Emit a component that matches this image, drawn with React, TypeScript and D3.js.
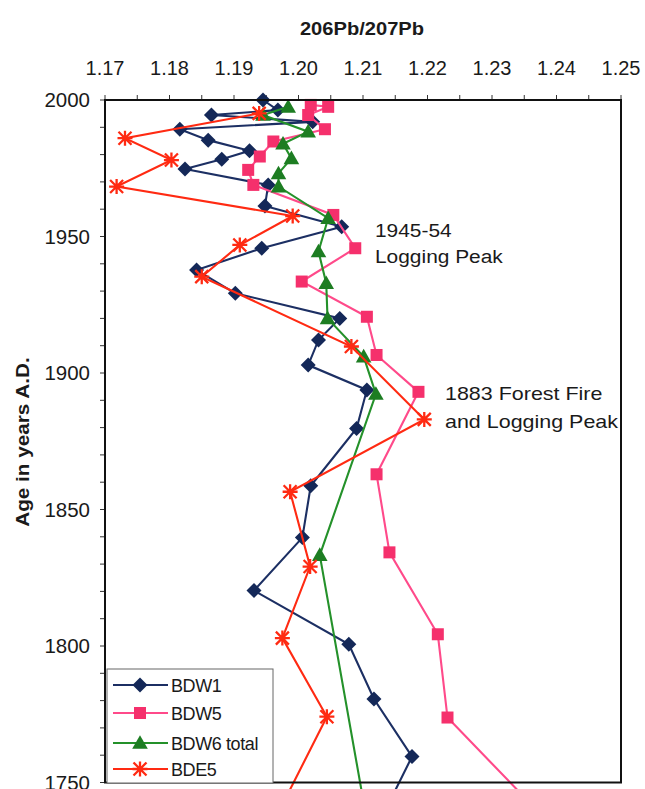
import React from "react";
import * as d3 from "d3";

// 206Pb/207Pb ratio profiles by sediment age
const bdw1Years = [2000, 1996.3, 1994.5, 1992, 1989.3, 1985.3, 1981.4, 1978.3, 1974.7, 1968.9, 1961.2, 1953.6, 1945.7, 1937.7, 1929.2, 1920, 1912.1, 1902.9, 1893.8, 1879.7, 1858.7, 1839.7, 1820.3, 1800.6, 1780.6, 1759.5, 1740];
const bdw1Ratio = [1.1945, 1.1968, 1.1865, 1.2022, 1.1816, 1.186, 1.1924, 1.1881, 1.1824, 1.1953, 1.1948, 1.2067, 1.1943, 1.1842, 1.1902, 1.2064, 1.2031, 1.2015, 1.2106, 1.209, 1.2019, 1.2006, 1.1931, 1.2078, 1.2117, 1.2176, 1.2135];

const bdw5Years = [1998.2, 1997.5, 1994.5, 1989.3, 1984.8, 1979.3, 1974.4, 1968.9, 1957.9, 1945.7, 1933.5, 1920.6, 1906.6, 1893.1, 1862.9, 1834.3, 1804.3, 1773.8, 1740];
const bdw5Ratio = [1.2019, 1.2046, 1.2015, 1.2041, 1.1961, 1.194, 1.1922, 1.193, 1.2054, 1.2088, 1.2005, 1.2106, 1.2121, 1.2186, 1.2121, 1.2141, 1.2216, 1.2231, 1.2369];

const bdw6Years = [1997.5, 1994.5, 1988.4, 1984, 1978.6, 1973.1, 1968.3, 1956.7, 1944.5, 1932.9, 1920, 1906, 1892.3, 1833.3, 1700];
const bdw6Ratio = [1.1984, 1.1945, 1.2015, 1.1976, 1.1989, 1.1969, 1.1969, 1.2046, 1.2031, 1.2043, 1.2045, 1.2101, 1.212, 1.2033, 1.2133];

const bde5Years = [1995.1, 1986, 1978, 1968.3, 1957.5, 1946.9, 1935.3, 1909.7, 1883, 1856.5, 1829.1, 1802.9, 1774.1, 1740];
const bde5Ratio = [1.1939, 1.1731, 1.1803, 1.1718, 1.1991, 1.1909, 1.185, 1.2082, 1.2195, 1.1987, 1.2018, 1.1975, 1.2044, 1.1971];

const xTickLabels = ["1.17", "1.18", "1.19", "1.20", "1.21", "1.22", "1.23", "1.24", "1.25"];
const yTickLabels = [2000, 1950, 1900, 1850, 1800, 1750];

const seriesNames = ["BDW1", "BDW5", "BDW6 total", "BDE5"];

const FONT = 'Arial, "Liberation Sans", Helvetica, sans-serif';

type Pt = { year: number; ratio: number };
const zipSeries = (ys: number[], rs: number[]): Pt[] => ys.map((y, i) => ({ year: y, ratio: rs[i] }));

const series = [
  { name: seriesNames[0], data: zipSeries(bdw1Years, bdw1Ratio), line: "#1c2f63", fill: "#142858", marker: "diamond" },
  { name: seriesNames[1], data: zipSeries(bdw5Years, bdw5Ratio), line: "#ff4a8a", fill: "#f5306c", marker: "square" },
  { name: seriesNames[2], data: zipSeries(bdw6Years, bdw6Ratio), line: "#24912a", fill: "#1d7d22", marker: "triangle" },
  { name: seriesNames[3], data: zipSeries(bde5Years, bde5Ratio), line: "#ff2a12", fill: "#ff2a12", marker: "star" },
];

function Marker({ kind, x, y, fill }: { kind: string; x: number; y: number; fill: string }) {
  if (kind === "diamond") {
    const r = 7.5;
    return <path d={`M${x},${y - r}L${x + r},${y}L${x},${y + r}L${x - r},${y}Z`} fill={fill} />;
  }
  if (kind === "square") {
    const h = 6;
    return <rect x={x - h} y={y - h} width={2 * h} height={2 * h} fill={fill} />;
  }
  if (kind === "triangle") {
    const r = 7.8;
    return <path d={`M${x},${y - r}L${x + r},${y + r * 0.75}L${x - r},${y + r * 0.75}Z`} fill={fill} />;
  }
  const r = 6.5;
  return (
    <path
      d={`M${x - r},${y - r}L${x + r},${y + r}M${x - r},${y + r}L${x + r},${y - r}M${x},${y - r - 1}L${x},${y + r + 1}M${x - r - 1},${y}L${x + r + 1},${y}`}
      stroke={fill}
      strokeWidth={2.3}
      fill="none"
    />
  );
}

export default function App() {
  const W = 645;
  const H = 789;
  const left = 105;
  const right = 621;
  const top = 100;
  const bottom = 782.5;

  const x = d3.scaleLinear().domain([1.17, 1.25]).range([left, right]);
  const y = d3.scaleLinear().domain([2000, 1750]).range([top, bottom]);

  const line = d3
    .line<Pt>()
    .x((d) => x(d.ratio))
    .y((d) => y(d.year));

  const xMinor = d3.range(0, 17).map((i) => 1.17 + i * 0.005);
  const yMinor = d3.range(0, 26).map((i) => 2000 - i * 10);

  const legend = { x0: 107, y0: 669, x1: 273, y1: 783 };
  const legendRows = [685, 713, 743, 769];

  return (
    <svg width={W} height={H} style={{ position: "absolute", left: 0, top: 0, background: "#fff" }} fontFamily={FONT}>
      <rect x={0} y={0} width={W} height={H} fill="#fff" />

      {/* title */}
      <text x={362} y={35} textAnchor="middle" fontWeight="bold" fontSize={19} fill="#1a1a1a" transform="translate(362,0) scale(1.06,1) translate(-362,0)">
        206Pb/207Pb
      </text>

      {/* top axis ticks and labels */}
      {xMinor.map((v, i) => (
        <line key={"xt" + i} x1={x(v)} x2={x(v)} y1={top - 5} y2={top} stroke="#333" strokeWidth={1} />
      ))}
      {xTickLabels.map((t) => (
        <text key={t} x={x(+t)} y={75} textAnchor="middle" fontSize={20} fill="#1a1a1a">
          {t}
        </text>
      ))}

      {/* left axis ticks and labels */}
      {yMinor.map((v, i) => (
        <line key={"yt" + i} x1={left - 5} x2={left} y1={y(v)} y2={y(v)} stroke="#333" strokeWidth={1} />
      ))}
      {yTickLabels.map((t) => (
        <text key={t} x={90} y={y(t) + 7} textAnchor="end" fontSize={20.5} fill="#1a1a1a">
          {t}
        </text>
      ))}

      <text
        transform={`translate(29,442) rotate(-90) scale(1.12,1)`}
        textAnchor="middle"
        fontWeight="bold"
        fontSize={18.5}
        fill="#1a1a1a"
      >
        Age in years A.D.
      </text>

      {/* series */}
      {series.map((s) => (
        <g key={s.name}>
          <path d={line(s.data) || ""} fill="none" stroke={s.line} strokeWidth={2.1} />
          {s.data.map((d, i) => (
            <Marker key={i} kind={s.marker} x={x(d.ratio)} y={y(d.year)} fill={s.fill} />
          ))}
        </g>
      ))}

      {/* plot frame */}
      <rect x={left} y={top} width={right - left} height={bottom - top} fill="none" stroke="#111" strokeWidth={2} />

      {/* annotations */}
      <g fontSize={19} fill="#1a1a1a">
        <text transform="translate(375,237) scale(1.1,1)">1945-54</text>
        <text transform="translate(375,263) scale(1.1,1)">Logging Peak</text>
        <text transform="translate(445,400) scale(1.13,1)">1883 Forest Fire</text>
        <text transform="translate(445,428) scale(1.13,1)">and Logging Peak</text>
      </g>

      {/* legend */}
      <rect x={legend.x0} y={legend.y0} width={legend.x1 - legend.x0} height={legend.y1 - legend.y0} fill="#fff" stroke="#666" strokeWidth={1} />
      {series.map((s, i) => (
        <g key={"lg" + s.name}>
          <line x1={113} x2={168} y1={legendRows[i]} y2={legendRows[i]} stroke={s.line} strokeWidth={2.1} />
          <Marker kind={s.marker} x={140} y={legendRows[i]} fill={s.fill} />
          <text x={171} y={legendRows[i] + 6.5} fontSize={18} fill="#1a1a1a" letterSpacing={-0.4}>
            {s.name}
          </text>
        </g>
      ))}
    </svg>
  );
}
